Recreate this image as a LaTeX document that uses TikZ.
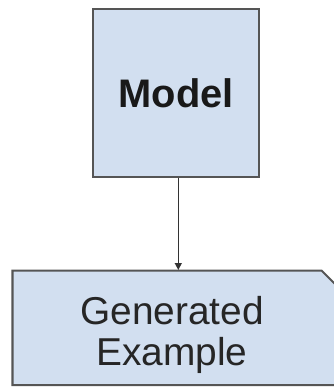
\documentclass[tikz,border=0pt]{standalone}
\usepackage{fontspec}
\setmainfont{Liberation Sans}
\usetikzlibrary{arrows.meta}
\definecolor{boxfill}{HTML}{D2DFF0}
\definecolor{boxline}{HTML}{555555}
\begin{document}
\begin{tikzpicture}[x=1bp,y=-1bp,
  boxstyle/.style={draw=boxline,line width=2bp,fill=boxfill},
  label/.style={inner sep=0pt,align=center,text=black!85}]
\useasboundingbox (0,0) rectangle (334,387);
\begin{scope}
\clip (0,0) rectangle (334,387);
% model box
\node[boxstyle,minimum width=166bp,minimum height=167.5bp,inner sep=0pt,
      font=\fontsize{40}{44}\selectfont\bfseries,text=black!90] (model) at (176.3,93) {Model};
% output box with chamfered top-right corner
\path[boxstyle] (12.5,270.5) -- (321.5,270.5) -- (346,295) -- (346,385) -- (12.5,385) -- cycle;
\coordinate (gentop) at (178.3,270);
\node[label,font=\fontsize{39}{41}\selectfont] (gen) at (172,335) {Generated\\Example};
\end{scope}
\draw[line width=1.4bp,draw=black!80,-{Triangle[length=7bp,width=7bp]}] (model.south -| gentop) -- (gentop);
\end{tikzpicture}
\end{document}
